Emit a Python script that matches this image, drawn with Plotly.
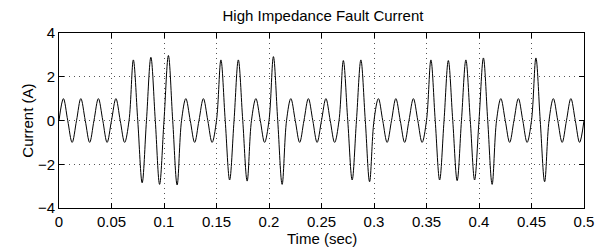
import plotly.graph_objects as go

# Sample times (s): zero crossings and peaks (60 Hz waveform)
time_s = [
    0, 0.0042, 0.0083, 0.0125, 0.0167, 0.0208, 0.025, 0.0292, 0.0333, 0.0375, 0.0417, 0.0458,
    0.05, 0.0542, 0.0583, 0.0625, 0.0667, 0.0708, 0.075, 0.0792, 0.0833, 0.0875, 0.0917, 0.0958,
    0.1, 0.1042, 0.1083, 0.1125, 0.1167, 0.1208, 0.125, 0.1292, 0.1333, 0.1375, 0.1417, 0.1458,
    0.15, 0.1542, 0.1583, 0.1625, 0.1667, 0.1708, 0.175, 0.1792, 0.1833, 0.1875, 0.1917, 0.1958,
    0.2, 0.2042, 0.2083, 0.2125, 0.2167, 0.2208, 0.225, 0.2292, 0.2333, 0.2375, 0.2417, 0.2458,
    0.25, 0.2542, 0.2583, 0.2625, 0.2667, 0.2708, 0.275, 0.2792, 0.2833, 0.2875, 0.2917, 0.2958,
    0.3, 0.3042, 0.3083, 0.3125, 0.3167, 0.3208, 0.325, 0.3292, 0.3333, 0.3375, 0.3417, 0.3458,
    0.35, 0.3542, 0.3583, 0.3625, 0.3667, 0.3708, 0.375, 0.3792, 0.3833, 0.3875, 0.3917, 0.3958,
    0.4, 0.4042, 0.4083, 0.4125, 0.4167, 0.4208, 0.425, 0.4292, 0.4333, 0.4375, 0.4417, 0.4458,
    0.45, 0.4542, 0.4583, 0.4625, 0.4667, 0.4708, 0.475, 0.4792, 0.4833, 0.4875, 0.4917, 0.4958,
    0.5,
]

# Current (A) at those times
current_a = [
    0, 1, 0, -1, 0, 1, 0, -1, 0, 1, 0, -1,
    0, 1, 0, -1, 0, 2.77, 0, -2.85, 0, 2.89, 0, -2.92,
    0, 2.97, 0, -2.95, 0, 1, 0, -1, 0, 1, 0, -1,
    0, 2.77, 0, -2.72, 0, 2.77, 0, -2.77, 0, 1, 0, -1,
    0, 2.92, 0, -2.92, 0, 1, 0, -1, 0, 1, 0, -1,
    0, 1, 0, -1, 0, 2.74, 0, -2.72, 0, 2.77, 0, -2.8,
    0, 1, 0, -1, 0, 1, 0, -1, 0, 1, 0, -1,
    0, 2.77, 0, -2.72, 0, 2.74, 0, -2.75, 0, 2.77, 0, -2.72,
    0, 2.86, 0, -2.92, 0, 1, 0, -1, 0, 1, 0, -1,
    0, 2.86, 0, -2.8, 0, 1, 0, -1, 0, 1, 0, -1,
    0,
]

x_ticks = [0, 0.05, 0.1, 0.15, 0.2, 0.25, 0.3, 0.35, 0.4, 0.45, 0.5]
x_tick_text = ["0", "0.05", "0.1", "0.15", "0.2", "0.25", "0.3", "0.35", "0.4", "0.45", "0.5"]
y_ticks = [-4, -2, 0, 2, 4]

FONT = "Liberation Sans, Arial, Helvetica"
# The page body has an 8px default margin, so the figure is laid out 8px smaller/offset.
W, H = 598, 243
L, R, T, B = 51, 19, 25, 43
PW, PH = W - L - R, H - T - B

fig = go.Figure()
fig.add_trace(go.Scatter(
    x=time_s, y=current_a, mode="lines",
    line=dict(color="black", width=1, shape="spline", smoothing=1.0),
    showlegend=False, hoverinfo="skip",
))

axis_common = dict(
    showline=True, linecolor="black", linewidth=1, mirror="ticks",
    ticks="inside", ticklen=5, tickcolor="black", tickwidth=1,
    showgrid=True, gridcolor="#555555", gridwidth=1, griddash="1px,4px",
    zeroline=False, tickfont=dict(family=FONT, size=15, color="black"),
)

fig.update_layout(
    width=W, height=H,
    margin=dict(l=L, r=R, t=T, b=B),
    paper_bgcolor="white", plot_bgcolor="white",
    font=dict(family=FONT, size=15, color="black"),
    title=dict(text="High Impedance Fault Current", x=(L + W - R) / 2 / W, xanchor="center",
               xref="container", yref="container", y=1 - 8 / H, yanchor="middle",
               font=dict(size=15)),
    xaxis=dict(range=[0, 0.5], tickvals=x_ticks, ticktext=x_tick_text, **axis_common),
    yaxis=dict(range=[-4, 4], tickvals=y_ticks, **axis_common),
    annotations=[
        dict(text="Time (sec)", xref="paper", yref="paper", x=0.5, y=-30 / PH,
             xanchor="center", yanchor="middle", showarrow=False,
             font=dict(family=FONT, size=15, color="black")),
        dict(text="Current (A)", xref="paper", yref="paper", x=-32 / PW, y=0.5,
             xanchor="center", yanchor="middle", textangle=-90, showarrow=False,
             font=dict(family=FONT, size=15, color="black")),
    ],
)

fig.write_html("out.html")
